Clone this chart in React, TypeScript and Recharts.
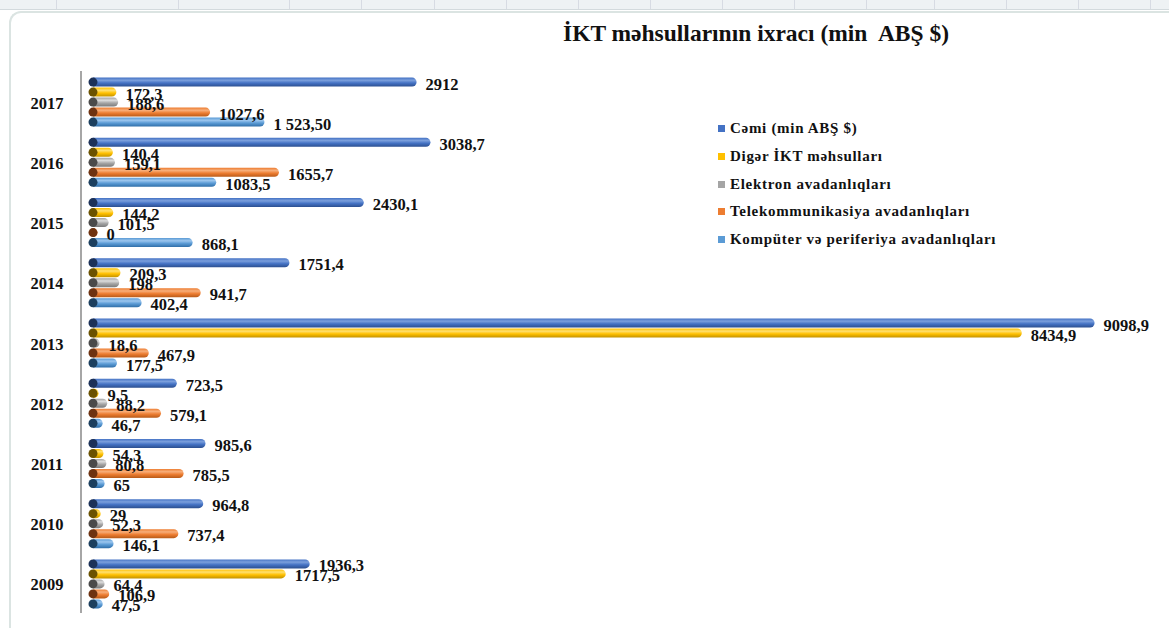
import React from 'react';
import { BarChart, Bar, XAxis, YAxis, Legend, LabelList } from 'recharts';

const years = ['2017', '2016', '2015', '2014', '2013', '2012', '2011', '2010', '2009'];

const cemi = [2912, 3038.7, 2430.1, 1751.4, 9098.9, 723.5, 985.6, 964.8, 1936.3];
const diger = [172.3, 140.4, 144.2, 209.3, 8434.9, 9.5, 54.3, 29, 1717.5];
const elektron = [188.6, 159.1, 101.5, 198, 18.6, 88.2, 80.8, 52.3, 64.4];
const telekom = [1027.6, 1655.7, 0, 941.7, 467.9, 579.1, 785.5, 737.4, 106.9];
const komputer = [1523.5, 1083.5, 868.1, 402.4, 177.5, 46.7, 65, 146.1, 47.5];

const cemiLabels = ['2912', '3038,7', '2430,1', '1751,4', '9098,9', '723,5', '985,6', '964,8', '1936,3'];
const digerLabels = ['172,3', '140,4', '144,2', '209,3', '8434,9', '9,5', '54,3', '29', '1717,5'];
const elektronLabels = ['188,6', '159,1', '101,5', '198', '18,6', '88,2', '80,8', '52,3', '64,4'];
const telekomLabels = ['1027,6', '1655,7', '0', '941,7', '467,9', '579,1', '785,5', '737,4', '106,9'];
const komputerLabels = ['1 523,50', '1083,5', '868,1', '402,4', '177,5', '46,7', '65', '146,1', '47,5'];

const seriesNames = [
  'Cəmi (min ABŞ $)',
  'Digər İKT məhsulları',
  'Elektron avadanlıqları',
  'Telekommunikasiya avadanlıqları',
  'Kompüter və periferiya avadanlıqları',
];

const data = years.map((y, i) => ({
  year: y,
  cemi: cemi[i],
  diger: diger[i],
  elektron: elektron[i],
  telekom: telekom[i],
  komputer: komputer[i],
}));

const styles = [
  { key: 'cemi', color: '#4472C4', light: '#7b9fdc', dark: '#2c4f8f', cap: '#1c3158', labels: cemiLabels },
  { key: 'diger', color: '#FFC000', light: '#ffe070', dark: '#c29200', cap: '#6b5200', labels: digerLabels },
  { key: 'elektron', color: '#A5A5A5', light: '#dcdcdc', dark: '#7a7a7a', cap: '#4a4a4a', labels: elektronLabels },
  { key: 'telekom', color: '#ED7D31', light: '#f7ae7a', dark: '#b85a18', cap: '#6e3210', labels: telekomLabels },
  { key: 'komputer', color: '#5B9BD5', light: '#9cc6ee', dark: '#2f6ea8', cap: '#1c3f5e', labels: komputerLabels },
];

const SERIF = '"Liberation Serif", "Times New Roman", serif';

const makeShape = (gradId: string, capColor: string) => (props: any) => {
  const { x, y, width, height } = props;
  if (y == null || height == null || isNaN(y) || isNaN(height)) return <g />;
  const r = height / 2;
  const x0 = x;
  const xe = x0 + Math.max(width || 0, 0);
  const d = `M${x0},${y} H${xe} A${r},${r} 0 0 1 ${xe},${y + height} H${x0} Z`;
  return (
    <g>
      <path d={d} fill={`url(#${gradId})`} />
      <ellipse cx={x0} cy={y + r} rx={r} ry={r} fill={capColor} />
    </g>
  );
};

const makeLabel = (labels: string[]) => (props: any) => {
  const { x, y, width, height, index } = props;
  const r = height / 2;
  return (
    <text
      x={x + Math.max(width || 0, 0) + r + 9}
      y={y + height / 2 + 2}
      dominantBaseline="central"
      fontFamily={SERIF}
      fontWeight="bold"
      fontSize={16.5}
      fill="#111"
    >
      {labels[index]}
    </text>
  );
};

const YearTick = (props: any) => {
  const { y, payload } = props;
  return (
    <text x={47} y={y + 2} textAnchor="middle" dominantBaseline="central" fontFamily={SERIF} fontWeight="bold" fontSize={16.5} fill="#111">
      {payload.value}
    </text>
  );
};

const LegendContent = () => (
  <div style={{ fontFamily: SERIF, fontWeight: 'bold', fontSize: 15, color: '#111', letterSpacing: 0.7 }}>
    {seriesNames.map((n, i) => (
      <div key={n} style={{ display: 'flex', alignItems: 'center', height: 27.7, whiteSpace: 'nowrap' }}>
        <span style={{ display: 'inline-block', width: 7, height: 7, background: styles[i].color, marginRight: 5 }} />
        <span>{n}</span>
      </div>
    ))}
  </div>
);

const gridLines = [56, 178, 289, 361, 434, 506, 578, 650, 722, 794, 866, 934, 1006, 1078, 1150];

export default function App() {
  return (
    <div style={{ position: 'absolute', left: 0, top: 0, width: 1169, height: 628, background: '#fff', overflow: 'hidden' }}>
      <div style={{ position: 'absolute', left: 0, top: 0, width: 1169, height: 9, background: '#eef2f4', borderBottom: '1px solid #d3dadd' }}>
        {gridLines.map((g) => (
          <div key={g} style={{ position: 'absolute', left: g, top: 0, width: 1, height: 9, background: '#d7dbe3' }} />
        ))}
      </div>
      <div
        style={{
          position: 'absolute',
          left: 9,
          top: 11,
          width: 1300,
          height: 700,
          borderLeft: '2px solid #dbe4e2',
          borderTop: '2px solid #dbe4e2',
          borderTopLeftRadius: 12,
        }}
      />
      <div
        style={{
          position: 'absolute',
          left: 563,
          top: 20,
          fontFamily: SERIF,
          fontWeight: 'bold',
          fontSize: 23.5,
          whiteSpace: 'pre',
          color: '#111',
        }}
      >
        İKT məhsullarının ixracı (min  ABŞ $)
      </div>
      <div style={{ position: 'absolute', left: 0, top: 0 }}>
        <BarChart
          width={1169}
          height={628}
          data={data}
          layout="vertical"
          margin={{ top: 71, right: 35, bottom: 15, left: 8 }}
          barCategoryGap="11%"
          barGap={1}
        >
          <defs>
            {styles.map((s) => (
              <linearGradient key={s.key} id={`g-${s.key}`} x1="0" y1="0" x2="0" y2="1">
                <stop offset="0%" stopColor={s.color} />
                <stop offset="30%" stopColor={s.light} />
                <stop offset="60%" stopColor={s.color} />
                <stop offset="100%" stopColor={s.dark} />
              </linearGradient>
            ))}
          </defs>
          <XAxis type="number" domain={[0, 9500]} hide padding={{ left: 12, right: 0 }} />
          <YAxis
            type="category"
            dataKey="year"
            width={73}
            axisLine={{ stroke: '#a6a6a6', strokeWidth: 2 }}
            tickLine={false}
            tick={<YearTick />}
            interval={0}
          />
          <Legend
            layout="vertical"
            align="center"
            verticalAlign="middle"
            content={<LegendContent />}
            wrapperStyle={{ position: 'absolute', left: 718, top: 115, width: 320 }}
          />
          {styles.map((s, i) => (
            <Bar
              key={s.key}
              dataKey={s.key}
              name={seriesNames[i]}
              fill={s.color}
              isAnimationActive={false}
              shape={makeShape(`g-${s.key}`, s.cap)}
            >
              <LabelList dataKey={s.key} content={makeLabel(s.labels)} />
            </Bar>
          ))}
        </BarChart>
      </div>
    </div>
  );
}
